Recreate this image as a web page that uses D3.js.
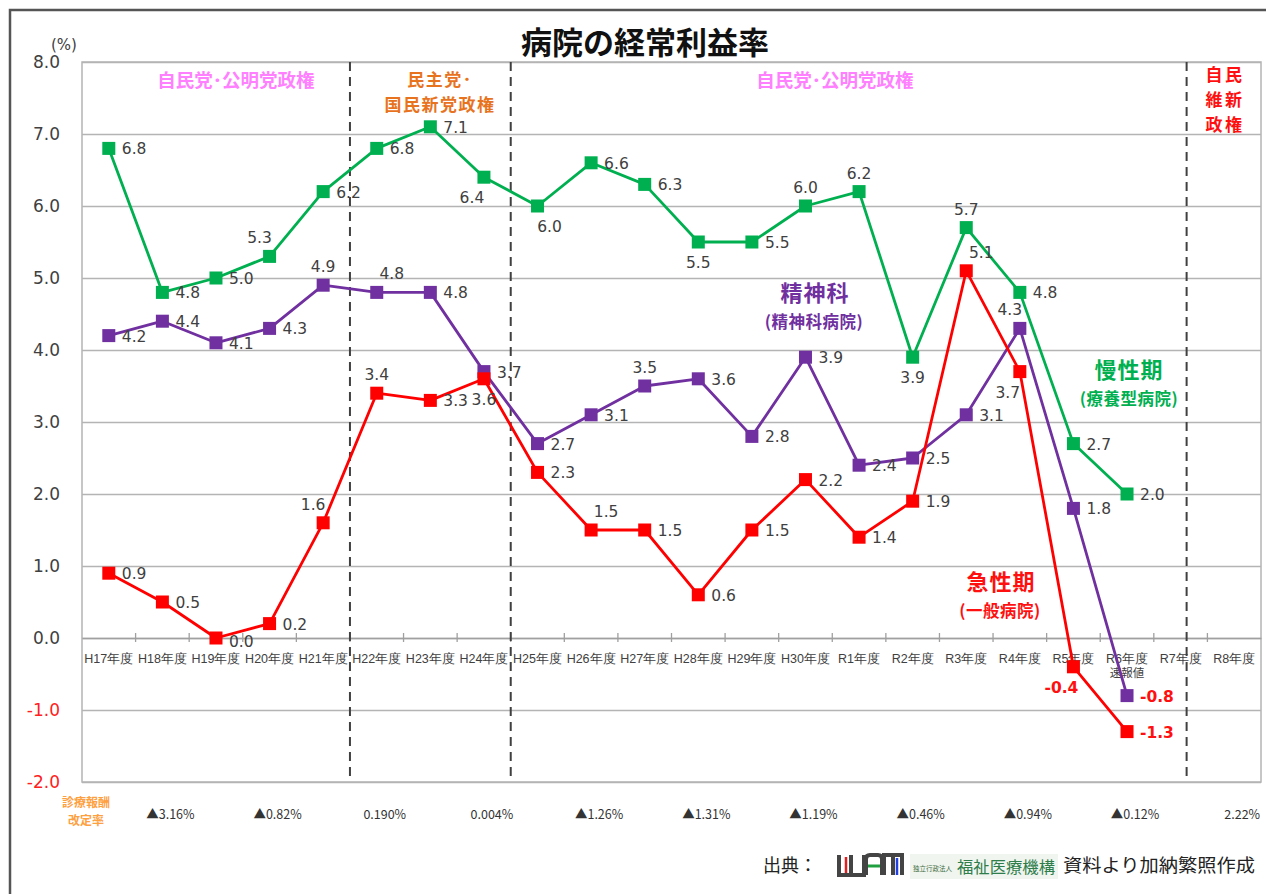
<!DOCTYPE html>
<html><head><meta charset="utf-8">
<script src="https://cdn.jsdelivr.net/npm/d3@7"></script>
<style>
html,body{margin:0;padding:0;background:#fff;}
svg{display:block;font-family:"Noto Sans CJK JP","Noto Sans",sans-serif;}
.num{font-family:"DejaVu Sans",Verdana,sans-serif;}
</style></head>
<body>
<svg id="c" width="1266" height="894"></svg>
<script>
const categories = ["H17年度","H18年度","H19年度","H20年度","H21年度","H22年度","H23年度","H24年度","H25年度","H26年度","H27年度","H28年度","H29年度","H30年度","R1年度","R2年度","R3年度","R4年度","R5年度","R6年度","R7年度","R8年度"];
const chronic = [6.8,4.8,5.0,5.3,6.2,6.8,7.1,6.4,6.0,6.6,6.3,5.5,5.5,6.0,6.2,3.9,5.7,4.8,2.7,2.0];
const psych   = [4.2,4.4,4.1,4.3,4.9,4.8,4.8,3.7,2.7,3.1,3.5,3.6,2.8,3.9,2.4,2.5,3.1,4.3,1.8,-0.8];
const acute   = [0.9,0.5,0.0,0.2,1.6,3.4,3.3,3.6,2.3,1.5,1.5,0.6,1.5,2.2,1.4,1.9,5.1,3.7,-0.4,-1.3];
const yTicks = [-2,-1,0,1,2,3,4,5,6,7,8];
const revisionYears = ["H18年度","H20年度","H22年度","H24年度","H26年度","H28年度","H30年度","R2年度","R4年度","R6年度","R8年度"];
const revisionRates = ["▲3.16%","▲0.82%","0.190%","0.004%","▲1.26%","▲1.31%","▲1.19%","▲0.46%","▲0.94%","▲0.12%","2.22%"];

// label placement codes (layout only)
const chronicPos = ["r","r","r","al","r","r","r","bl","br","r","r","b","r","a","a","b","a","r","r","r"];
const psychPos   = ["r","r","r","r","a","ar","r","r","r","r","a","r","r","r","r","r","r","al","r","r"];
const acutePos   = ["r","r","r0","r","al","a","r","b","r","ar","r","r","r","r","r","r","ar","bl","bl","r"];

const fmt = v => d3.format(".1f")(v).replace("−","-");

const svg = d3.select("#c");
const L=82, R=1261, T=62, B=782;
const x = d3.scaleBand().domain(categories).range([L,R]);
const y = d3.scaleLinear().domain([-2,8]).range([B,T]);
const cx = c => x(c) + x.bandwidth()/2;

// outer frame
svg.append("rect").attr("x",10).attr("y",10).attr("width",1290).attr("height",900)
  .attr("fill","none").attr("stroke","#555").attr("stroke-width",2.5);

// gridlines
svg.append("g").attr("transform",`translate(${L},0)`)
  .call(d3.axisLeft(y).tickValues(yTicks).tickSize(-(R-L)).tickFormat(""))
  .call(g=>g.select(".domain").remove())
  .call(g=>g.selectAll("line").attr("stroke","#b4b4b4").attr("stroke-width",1.3));

// plot border
svg.append("rect").attr("x",L).attr("y",T).attr("width",R-L).attr("height",B-T)
  .attr("fill","none").attr("stroke","#b4b4b4").attr("stroke-width",1.5);

// y tick labels
svg.append("g").attr("transform",`translate(${L},0)`)
  .call(d3.axisLeft(y).tickValues(yTicks).tickSize(0).tickPadding(22).tickFormat(fmt))
  .call(g=>g.select(".domain").remove())
  .call(g=>g.selectAll("text").attr("class","num").attr("font-size",17)
     .attr("fill",d=>d<0?"#ff2020":"#404040"));

// zero line with ticks between categories
svg.append("g").attr("transform",`translate(0,${y(0)})`)
  .call(d3.axisBottom(x).tickSize(0).tickPadding(16))
  .call(g=>g.select(".domain").attr("stroke","#a0a0a0").attr("stroke-width",1.5))
  .call(g=>g.selectAll("text").attr("font-size",12.5).attr("fill","#404040"));
svg.append("g").selectAll("line").data(categories.slice(1)).join("line")
  .attr("x1",d=>x(d)).attr("x2",d=>x(d)).attr("y1",y(0)-5).attr("y2",y(0)+4)
  .attr("stroke","#a0a0a0").attr("stroke-width",1.3);
svg.append("text").attr("x",cx("R6年度")).attr("y",y(0)+39).attr("text-anchor","middle")
  .attr("font-size",11.5).attr("fill","#404040").text("速報値");

// era dashed lines
const eraX = [x("H22年度"), x("H25年度"), cx("R7年度")+6];
svg.append("g").selectAll("line").data(eraX).join("line")
  .attr("x1",d=>d).attr("x2",d=>d).attr("y1",T).attr("y2",B)
  .attr("stroke","#404040").attr("stroke-width",2).attr("stroke-dasharray","9,6");

// title
svg.append("text").attr("x",645).attr("y",54).attr("text-anchor","middle")
  .attr("font-size",31).attr("font-weight","bold").attr("fill","#111").text("病院の経常利益率");
svg.append("text").attr("x",64).attr("y",50).attr("text-anchor","middle").attr("class","num")
  .attr("font-size",15).attr("fill","#404040").text("(%)");

function txt(s, xx, yy, size, color, ls){
  return svg.append("text").attr("x",xx).attr("y",yy).attr("text-anchor","middle")
    .attr("font-size",size).attr("font-weight","bold").attr("fill",color)
    .attr("letter-spacing",ls||0).text(s);
}
// era labels
txt("自民党･公明党政権", 236, 87, 18.5, "#ff80ff");
txt("自民党･公明党政権", 835, 87, 18.5, "#ff80ff");
txt("民主党･", 440, 86, 17, "#e8731e", 1.5);
txt("国民新党政権", 440, 111, 17, "#e8731e", 1.5);
txt("自民", 1225, 81, 17, "#ff1010", 2.5);
txt("維新", 1225, 106, 17, "#ff1010", 2.5);
txt("政権", 1225, 131, 17, "#ff1010", 2.5);

// series labels
txt("精神科", 815, 301, 22, "#7030a0", 1);
txt("(精神科病院)", 814, 328, 16.5, "#7030a0", 0.5);
txt("慢性期", 1129, 378, 22, "#00b050", 1);
txt("(療養型病院)", 1129, 405, 16.5, "#00b050", 0.5);
txt("急性期", 1001, 590, 22, "#ff1010", 1);
txt("(一般病院)", 1000, 617, 16.5, "#ff1010", 0.5);

// series
const series = [
  {vals:chronic, pos:chronicPos, color:"#00b050"},
  {vals:psych, pos:psychPos, color:"#7030a0"},
  {vals:acute, pos:acutePos, color:"#ff0000"}
];
const off = {
  r:[13,6,"start"], r0:[13,9,"start"], a:[0,-13,"middle"], b:[0,26,"middle"],
  al:[-10,-13,"middle"], ar:[15,-13,"middle"], bl:[-12,26,"middle"], br:[12,26,"middle"]
};
series.forEach(s=>{
  const pts = s.vals.map((v,i)=>({c:categories[i], v, p:s.pos[i]}));
  const line = d3.line().x(d=>cx(d.c)).y(d=>y(d.v));
  svg.append("path").datum(pts).attr("d",line).attr("fill","none")
    .attr("stroke",s.color).attr("stroke-width",2.8).attr("stroke-linejoin","round");
  svg.append("g").selectAll("rect").data(pts).join("rect")
    .attr("x",d=>cx(d.c)-6.5).attr("y",d=>y(d.v)-6.5).attr("width",13).attr("height",13)
    .attr("fill",s.color);
  s.labels = pts;
});
series.forEach(s=>{
  svg.append("g").selectAll("text").data(s.labels).join("text")
    .attr("class","num")
    .attr("x",d=>cx(d.c)+off[d.p][0]).attr("y",d=>y(d.v)+off[d.p][1])
    .attr("text-anchor",d=>off[d.p][2])
    .attr("font-size",15.5)
    .attr("font-weight",d=>d.v<0?"bold":"normal")
    .attr("fill",d=>d.v<0?"#ff1010":"#404040")
    .text(d=>fmt(d.v));
});

// revision rates
txt("診療報酬", 86, 807, 12, "#ffa040");
txt("改定率", 86, 825, 12, "#ffa040");
svg.append("g").selectAll("text").data(revisionYears).join("text")
  .attr("x",(d)=>cx(d)+8).attr("y",819).attr("text-anchor","middle")
  .attr("font-size",12.5).attr("fill","#333")
  .text((d,i)=>revisionRates[i]);

// source
svg.append("text").attr("x",763).attr("y",872).attr("font-size",18).attr("fill","#222").text("出典：");
const logo = svg.append("g").attr("transform","translate(838,855)");
logo.append("path").attr("d","M1,0 V20 H26 V0 M13,0 V20").attr("fill","none").attr("stroke","#444").attr("stroke-width",4);
logo.append("line").attr("x1",8).attr("x2",8).attr("y1",2).attr("y2",18).attr("stroke","#e02020").attr("stroke-width",2.5);
logo.append("path").attr("d","M28,20 V4 Q28,0 32,0 H40 Q44,0 44,4 V20").attr("fill","none").attr("stroke","#444").attr("stroke-width",4);
logo.append("line").attr("x1",30).attr("x2",42).attr("y1",11).attr("y2",11).attr("stroke","#20a040").attr("stroke-width",3);
logo.append("path").attr("d","M46,20 V0 H64 V20 M55,0 V20").attr("fill","none").attr("stroke","#444").attr("stroke-width",4);
logo.append("line").attr("x1",59).attr("x2",59).attr("y1",3).attr("y2",20).attr("stroke","#2040e0").attr("stroke-width",2.5);
svg.append("rect").attr("x",910).attr("y",854).attr("width",148).attr("height",25).attr("fill","#f0f5ef");
svg.append("text").attr("x",913).attr("y",871).attr("font-size",6.5).attr("textLength",39)
  .attr("lengthAdjust","spacingAndGlyphs").attr("fill","#3a6a3a").text("独立行政法人");
svg.append("text").attr("x",957).attr("y",873).attr("font-size",16.3).attr("textLength",98)
  .attr("lengthAdjust","spacingAndGlyphs").attr("fill","#2e7d4a").text("福祉医療機構");
svg.append("text").attr("x",1063).attr("y",872).attr("font-size",18).attr("textLength",192)
  .attr("lengthAdjust","spacingAndGlyphs").attr("fill","#222").text("資料より加納繁照作成");
</script>
</body></html>
